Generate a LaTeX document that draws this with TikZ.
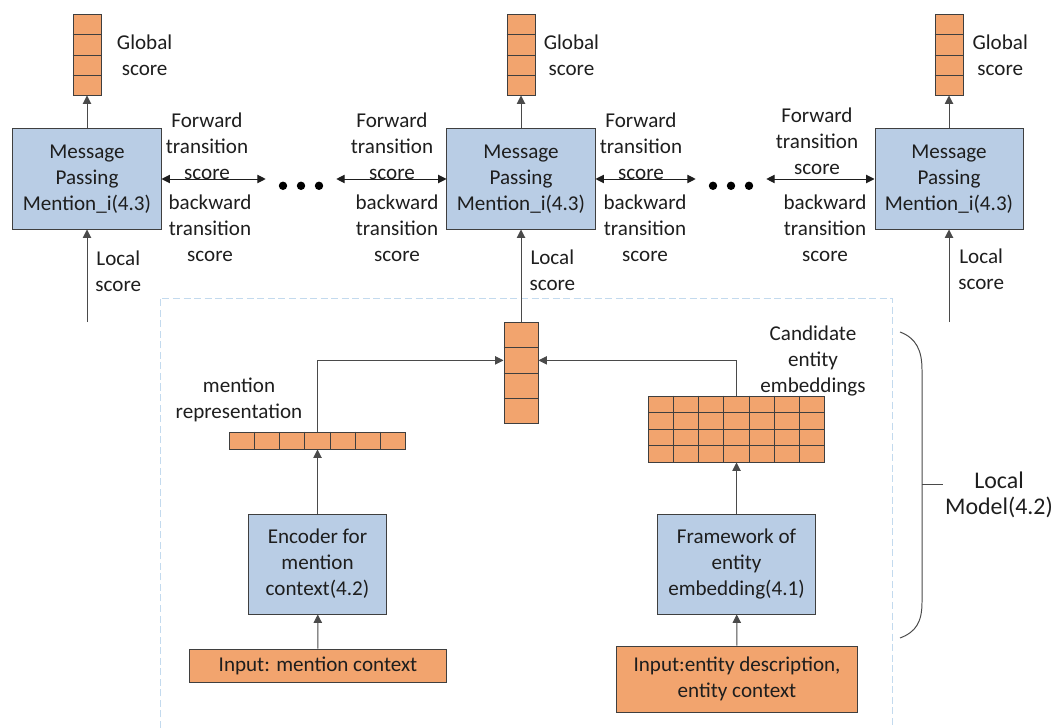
\documentclass[tikz,border=0pt]{standalone}
\usepackage{fontspec}
\setmainfont{Carlito}
\usepackage{tikz}
\usetikzlibrary{arrows.meta,positioning,calc}
\definecolor{cellfill}{HTML}{F2A46E}
\definecolor{boxfill}{HTML}{B9CDE5}
\definecolor{boxline}{HTML}{3F3F3F}
\definecolor{wire}{HTML}{4A4A4A}
\definecolor{framecol}{HTML}{C3DAEE}
\definecolor{ink}{HTML}{1E1E1E}

\begin{document}
\begin{tikzpicture}[x=0.025cm, y=-0.025cm,
    font=\fontsize{15}{18.5}\selectfont, text=ink,
    mpbox/.style={draw=boxline, fill=boxfill, line width=0.7pt, align=center,
        inner sep=0pt, minimum width=3.7cm, minimum height=2.5cm},
    cell/.style={draw=boxline, fill=cellfill, line width=0.7pt, inner sep=0pt},
    cellline/.style={draw=boxline, line width=0.7pt},
    lbl/.style={align=center, inner sep=0pt},
    link/.style={draw=wire, line width=0.7pt, -{Triangle[length=6pt,width=6pt]}},
    both/.style={draw=ink, line width=0.7pt,
        {Triangle[length=6pt,width=6pt]}-{Triangle[length=6pt,width=6pt]}},
    dotrow/.style={inner sep=0pt, minimum width=1.75cm, minimum height=0.3cm}]
    \useasboundingbox (0,0) rectangle (1056,728);

    % Local model frame
    \draw[framecol, line width=0.7pt, dash pattern=on 5pt off 2.5pt]
        (160,728) |- (892,298) -- (892,728);

    % Message passing nodes
    \node[mpbox] (mp1) at (87,179) {Message\\Passing\\Mention\_i(4.3)};
    \node[mpbox] (mp2) at (521,179) {Message\\Passing\\Mention\_i(4.3)};
    \node[mpbox] (mp3) at (949,179) {Message\\Passing\\Mention\_i(4.3)};

    % Global score vectors
    \node[cell, minimum width=0.7cm, minimum height=2cm] (g1) at (87,55) {};
    \node[cell, minimum width=0.7cm, minimum height=2cm] (g2) at (521,55) {};
    \node[cell, minimum width=0.7cm, minimum height=2cm] (g3) at (949,55) {};
    \node[lbl, right=0.38cm of g1] (gs1) {Global\\score};
    \node[lbl, right=0.2cm of g2] (gs2) {Global\\score};
    \node[lbl, right=0.22cm of g3] (gs3) {Global\\score};
    \draw[link] (mp1) -- (g1);
    \draw[link] (mp2) -- (g2);
    \draw[link] (mp3) -- (g3);

    % Ellipsis between mentions
    \node[dotrow] (dl) at (301,179) {};
    \node[dotrow] (dr) at (731,179) {};
    \foreach \d in {dl,dr}
        \foreach \k in {-1,0,1}
            \fill[black] ([xshift=\k*0.45cm, yshift=-0.17cm]\d.center) circle (0.105cm);

    % Transition scores
    \draw[both] (mp1.east) -- (dl.west);
    \draw[both] (dl.east) -- (mp2.west);
    \draw[both] (mp2.east) -- (dr.west);
    \draw[both] (dr.east) -- (mp3.west);
    \node[lbl] (tf1) at (207,146) {Forward\\transition\\score};
    \node[lbl] (tb1) at (210,228) {backward\\transition\\score};
    \node[lbl] (tf2) at (392,146) {Forward\\transition\\score};
    \node[lbl] (tb2) at (397,228) {backward\\transition\\score};
    \node[lbl] (tf3) at (641,146) {Forward\\transition\\score};
    \node[lbl] (tb3) at (645,228) {backward\\transition\\score};
    \node[lbl] (tf4) at (817,141) {Forward\\transition\\score};
    \node[lbl] (tb4) at (825,228) {backward\\transition\\score};

    % Local scores of the outer mentions
    \coordinate (in1) at (87,322);
    \coordinate (in3) at (949,322);
    \draw[link] (in1) -- (mp1) node[lbl, pos=0.55, right=0.2cm] (ls1) {Local\\score};
    \draw[link] (in3) -- (mp3) node[lbl, pos=0.57, right=0.22cm] (ls3) {Local\\score};

    % Local model
    \node[cell, minimum width=0.85cm, minimum height=2.5cm] (c) at (521,373) {};
    \node[cell, minimum width=4.375cm, minimum height=0.425cm] (r) at (317.5,440.5) {};
    \node[cell, minimum width=4.375cm, minimum height=1.65cm] (e) at (736.5,429) {};
    \foreach \v in {g1,g2,g3,c}
        \foreach \k in {1,2,3}
            \draw[cellline] ($(\v.north west)!\k/4!(\v.south west)$) -- ($(\v.north east)!\k/4!(\v.south east)$);
    \foreach \k in {1,...,6} {
        \draw[cellline] ($(r.north west)!\k/7!(r.north east)$) -- ($(r.south west)!\k/7!(r.south east)$);
        \draw[cellline] ($(e.north west)!\k/7!(e.north east)$) -- ($(e.south west)!\k/7!(e.south east)$);
    }
    \foreach \k in {1,2,3}
        \draw[cellline] ($(e.north west)!\k/4!(e.south west)$) -- ($(e.north east)!\k/4!(e.south east)$);
    \node[lbl] (rl) at (239,400) {mention\\representation};
    \node[lbl] (el) at (813,361) {Candidate\\entity\\embeddings};

    \node[mpbox, minimum width=3.425cm] (enc) at (317.5,564) {Encoder for\\mention\\context(4.2)};
    \node[mpbox, minimum width=3.925cm] (fw) at (736.5,564) {Framework of\\entity\\embedding(4.1)};
    \node[cell, align=center, minimum width=6.4cm, minimum height=0.825cm] (im) at (318,665.5) {Input: mention context};
    \node[cell, align=center, minimum width=6cm, minimum height=1.65cm] (ie) at (737,679) {Input:entity description,\\entity context};

    \draw[link] (im) -- (enc);
    \draw[link] (enc) -- (r);
    \draw[link] (ie) -- (fw);
    \draw[link] (fw) -- (e);
    \draw[link] (r.north) |- ($(c.north west)!0.375!(c.south west)$);
    \draw[link] (e.north) |- ($(c.north east)!0.375!(c.south east)$);
    \draw[link] (c) -- (mp2) node[lbl, pos=0.56, right=0.2cm] (ls2) {Local\\score};

    % Brace around the local model
    \draw[wire, line width=0.7pt] (900,332) .. controls (916,338) and (922,350) .. (922,370)
        -- (922,602) .. controls (922,622) and (916,632) .. (900,638);
    \node[lbl, font=\fontsize{17}{18.5}\selectfont] (lm) at (999,495) {Local\\Model(4.2)};
    \draw[wire, line width=0.7pt] (922,484) -- (943,484);
\end{tikzpicture}
\end{document}
